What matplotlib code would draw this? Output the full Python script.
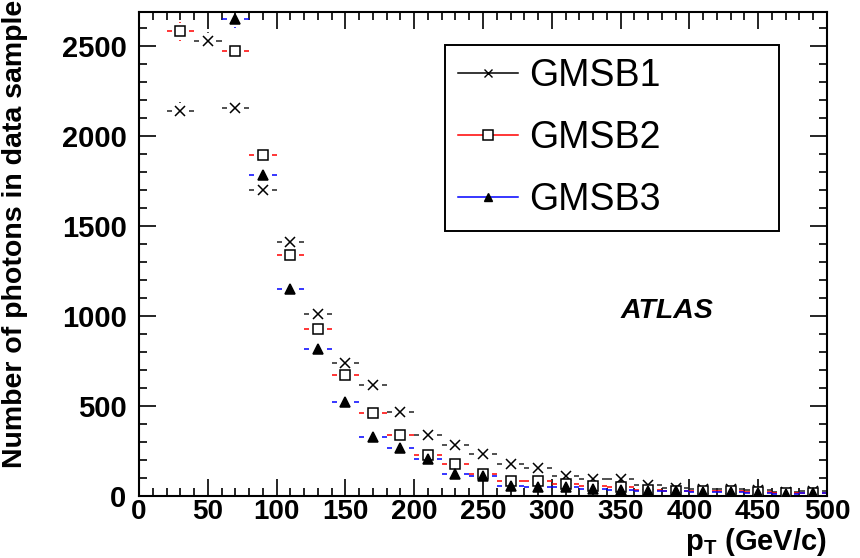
import numpy as np
import matplotlib
matplotlib.use("Agg")
import matplotlib.pyplot as plt
from matplotlib.lines import Line2D

# ---------------- data ----------------
pt_centers = [30, 50, 70, 90, 110, 130, 150, 170, 190, 210, 230, 250,
              270, 290, 310, 330, 350, 370, 390, 410, 430, 450, 470, 490]
gmsb1 = [2139, 2524, 2154, 1698, 1413, 1009, 737, 617, 469, 339, 283, 232,
         178, 154, 113, 95, 92, 62, 43, 40, 40, 32, 24, 28]
gmsb2 = [2579, np.nan, 2468, 1894, 1339, 929, 672, 459, 339, 228, 176, 122,
         82, 82, 65, 55, 50, 33, 28, 25, 25, 20, 15, 18]
gmsb3 = [np.nan, np.nan, 2650, 1783, 1148, 815, 524, 328, 265, 205, 120, 110,
         55, 48, 50, 40, 35, 28, 25, 20, 20, 15, 12, 15]
series_names = ["GMSB1", "GMSB2", "GMSB3"]
bin_half_width = 10
x_ticks = [0, 50, 100, 150, 200, 250, 300, 350, 400, 450, 500]
y_ticks = [0, 500, 1000, 1500, 2000, 2500]

plt.rcParams["font.family"] = ["Liberation Sans", "DejaVu Sans"]
plt.rcParams["mathtext.fontset"] = "custom"
plt.rcParams["mathtext.rm"] = "Liberation Sans"
plt.rcParams["mathtext.bf"] = "Liberation Sans:bold"

fig = plt.figure(figsize=(8.6, 5.58), dpi=100)
ax = fig.add_axes([139 / 860, (558 - 496) / 558, 688 / 860, 484.5 / 558])
ax.set_xlim(0, 500)
ax.set_ylim(0, 2690)


def draw(x, y, ecolor, marker, ms, mfc):
    x = np.asarray(x, float)
    y = np.asarray(y, float)
    m = ~np.isnan(y)
    x, y = x[m], y[m]
    err = np.sqrt(y)
    gx, gy = 6.3, 45
    lw = 1.1
    ax.hlines(y, x - bin_half_width, x - gx, colors=ecolor, lw=lw)
    ax.hlines(y, x + gx, x + bin_half_width, colors=ecolor, lw=lw)
    big = err > gy
    ax.vlines(x[big], y[big] + gy, y[big] + err[big], colors=ecolor, lw=lw)
    ax.vlines(x[big], y[big] - err[big], y[big] - gy, colors=ecolor, lw=lw)
    ax.plot(x, y, ls="none", marker=marker, ms=ms, mfc=mfc, mec="black",
            mew=1.1, color="black", zorder=3)


draw(pt_centers, gmsb1, "#222222", "x", 7.5, "black")
draw(pt_centers, gmsb2, "#ff0000", "s", 7.3, "white")
draw(pt_centers, gmsb3, "#0000ff", "^", 7.0, "black")

# axes styling (ROOT-like)
for s in ax.spines.values():
    s.set_linewidth(1.5)
ax.set_xticks(x_ticks)
ax.set_yticks(y_ticks)
ax.set_xticks(np.arange(0, 501, 10), minor=True)
ax.set_yticks(np.arange(0, 2690, 100), minor=True)
ax.tick_params(which="both", direction="in", top=True, right=True, width=1.2)
ax.tick_params(which="major", length=12)
ax.tick_params(which="minor", length=5.8)
ax.tick_params(axis="x", which="major", pad=2, labelsize=20)
ax.tick_params(axis="y", which="major", pad=9, labelsize=21)
for lab in ax.get_xticklabels() + ax.get_yticklabels():
    lab.set_fontweight("bold")

# legend
handles = [
    Line2D([], [], color="black", lw=1.1, marker="x", ms=6, mec="black", mew=1.0),
    Line2D([], [], color="#ff0000", lw=1.1, marker="s", ms=7, mfc="white", mec="black", mew=1.1),
    Line2D([], [], color="#0000ff", lw=1.1, marker="^", ms=6, mfc="black", mec="black"),
]
leg = ax.legend(handles, series_names, loc="upper left",
                bbox_to_anchor=(0.445, 0.931, 0.485, 0.0), mode="expand",
                fontsize=27, frameon=True, fancybox=False, framealpha=1,
                edgecolor="black", handlelength=1.6, handletextpad=0.3,
                labelspacing=0.69, borderpad=0.35, borderaxespad=0)
leg.get_frame().set_linewidth(1.4)

# ATLAS label
ax.text(0.768, 0.382, "ATLAS", transform=ax.transAxes, fontsize=20.5,
        fontweight="bold", fontstyle="italic", ha="center", va="center")

# axis titles (ROOT style)
fig.text(827 / 860, 0.5 / 558, r"$\mathbf{p}_\mathbf{T}$ (GeV/c)",
         fontsize=21, fontweight="bold", ha="right", va="bottom")
fig.text(15 / 860, 1.0, "Number of photons in data sample", rotation=90,
         fontsize=20.5, fontweight="bold", ha="center", va="top")

fig.savefig("out.png", dpi=100)
